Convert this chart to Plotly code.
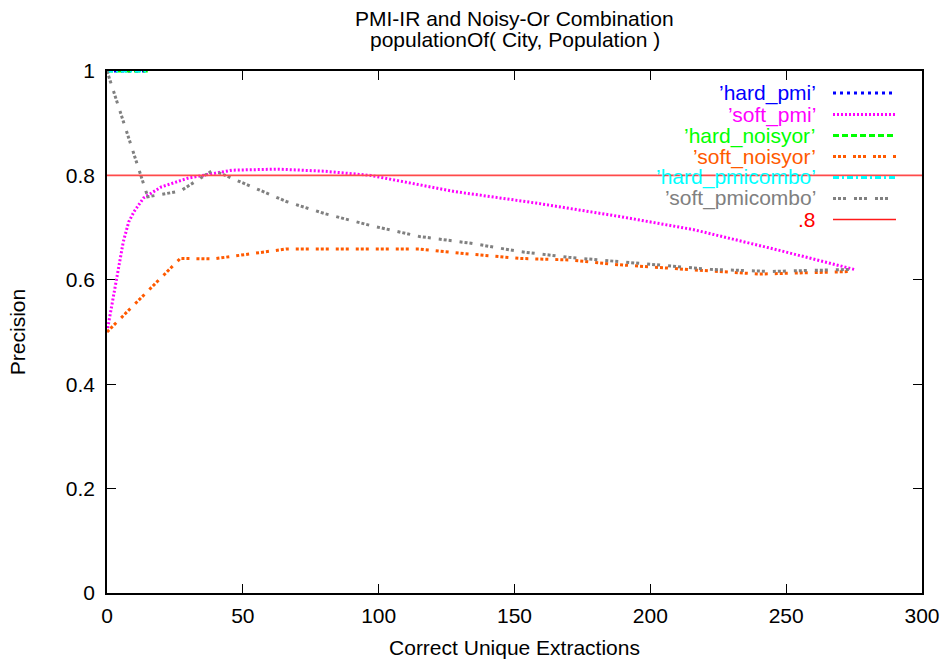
import plotly.graph_objects as go

# ---- data ----
hard_x = [0, 15]
hard_pmi_y = [1.0, 1.0]
hard_noisyor_y = [1.0, 1.0]
hard_pmicombo_y = [1.0, 1.0]

soft_pmi_x = [0, 3, 6, 8, 10, 13.5, 20, 30, 46, 63, 80, 97, 128, 158, 189, 216, 247, 275]
soft_pmi_y = [0.50, 0.585, 0.673, 0.711, 0.731, 0.757, 0.778, 0.795, 0.810, 0.812, 0.808,
              0.800, 0.769, 0.747, 0.721, 0.696, 0.657, 0.620]

soft_noisyor_x = [0, 27, 39, 66, 99, 115, 134, 152, 170, 188, 216, 240, 275]
soft_noisyor_y = [0.50, 0.641, 0.640, 0.659, 0.659, 0.659, 0.649, 0.641, 0.638, 0.629,
                  0.619, 0.611, 0.616]

soft_pmicombo_x = [0, 15, 27, 39, 66, 80, 97, 115, 134, 152, 170, 188, 222, 244, 260, 275]
soft_pmicombo_y = [1.0, 0.759, 0.770, 0.810, 0.750, 0.727, 0.704, 0.683, 0.670, 0.654,
                   0.643, 0.635, 0.620, 0.616, 0.618, 0.620]

ref_x = [0, 300]
ref_y = [0.8, 0.8]

x_ticks = [0, 50, 100, 150, 200, 250, 300]
y_ticks = [0, 0.2, 0.4, 0.6, 0.8, 1]
y_tick_text = ["0", "0.2", "0.4", "0.6", "0.8", "1"]

series = [
    ("\u2019hard_pmi\u2019", hard_x, hard_pmi_y, "#0000ff", "3px,4px", 3),
    ("\u2019soft_pmi\u2019", soft_pmi_x, soft_pmi_y, "#ff00ff", "2px,2px", 3),
    ("\u2019hard_noisyor\u2019", hard_x, hard_noisyor_y, "#00ff00", "6px,3px", 3),
    ("\u2019soft_noisyor\u2019", soft_noisyor_x, soft_noisyor_y, "#ff5a00", "3px,2px,3px,2px,3px,7px", 3),
    ("\u2019hard_pmicombo\u2019", hard_x, hard_pmicombo_y, "#00ffff", "6px,3px,2px,3px", 3),
    ("\u2019soft_pmicombo\u2019", soft_pmicombo_x, soft_pmicombo_y, "#808080", "3px,2px,3px,2px,3px,8px", 3),
    (".8", ref_x, ref_y, "#ff1a1a", "solid", 1.6),
]

FONT = "Liberation Sans, Arial, Helvetica, sans-serif"
FS = 21

fig = go.Figure()
for name, xs, ys, col, dash, w in series:
    tcol = "#ff4a4a" if name == ".8" else col
    fig.add_trace(go.Scatter(x=xs, y=ys, mode="lines", name=name,
                             line=dict(color=tcol, dash=dash, width=w),
                             cliponaxis=False, showlegend=False))

# manual gnuplot-style legend (text right-aligned, then sample)
L, R, T, B = 107, 25, 71, 71
W, H = 947 - L - R, 664 - T - B
rows_px = [93, 114.5, 135.5, 156.5, 177.5, 198.5, 219.5]
for (name, xs, ys, col, dash, w), py in zip(series, rows_px):
    yp = (664 - B - py) / H
    fig.add_annotation(x=(818 - L) / W, y=yp, xref="paper", yref="paper",
                       text=name, showarrow=False, xanchor="right", yanchor="middle",
                       font=dict(family=FONT, size=FS, color=("#ff0000" if name == ".8" else col)))
    fig.add_shape(type="line", xref="paper", yref="paper",
                  x0=(833 - L) / W, x1=(896 - L) / W, y0=yp, y1=yp,
                  line=dict(color=col, dash=dash, width=w))

# two-line title
for txt, py in [("PMI-IR and Noisy-Or Combination", 18), ("populationOf( City, Population )", 40)]:
    fig.add_annotation(x=0.5, y=(664 - B - py) / H, xref="paper", yref="paper",
                       text=txt, showarrow=False, xanchor="center", yanchor="middle",
                       font=dict(family=FONT, size=FS, color="black"))

axis_common = dict(showgrid=False, zeroline=False, showline=True, linecolor="black",
                   linewidth=1.5, mirror="ticks", ticks="inside", ticklen=9,
                   tickwidth=1, tickcolor="black", layer="below traces",
                   automargin=False,
                   tickfont=dict(family=FONT, size=FS, color="black"))

fig.update_layout(
    width=947, height=664,
    margin=dict(l=L, r=R, t=T, b=B),
    paper_bgcolor="white", plot_bgcolor="white",
    font=dict(family=FONT, size=FS, color="black"),
    xaxis=dict(range=[0, 300], tickvals=x_ticks, ticklabelstandoff=3,
               title=dict(text="Correct Unique Extractions", standoff=14,
                          font=dict(family=FONT, size=FS)),
               **axis_common),
    yaxis=dict(range=[0, 1], tickvals=y_ticks, ticktext=y_tick_text, ticklabelstandoff=6,
               title=dict(text="Precision", standoff=34,
                          font=dict(family=FONT, size=FS)),
               **axis_common),
)

fig.write_html("out.html")
